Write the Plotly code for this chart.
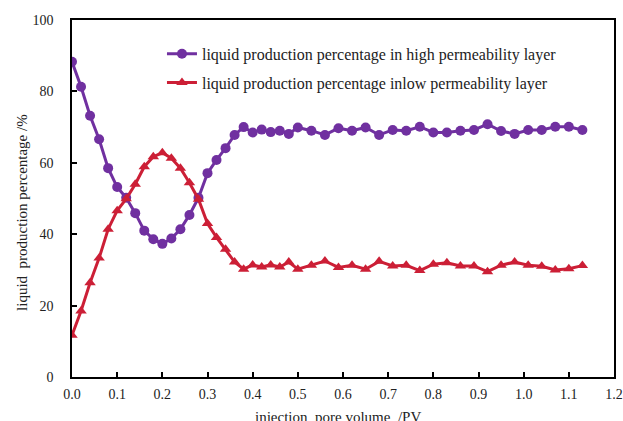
import plotly.graph_objects as go

pv = [0.00, 0.02, 0.04, 0.06, 0.08, 0.10, 0.12, 0.14, 0.16, 0.18,
      0.20, 0.22, 0.24, 0.26, 0.28, 0.30, 0.32, 0.34, 0.36, 0.38,
      0.40, 0.42, 0.44, 0.46, 0.48, 0.50, 0.53, 0.56, 0.59, 0.62,
      0.65, 0.68, 0.71, 0.74, 0.77, 0.80, 0.83, 0.86, 0.89, 0.92,
      0.95, 0.98, 1.01, 1.04, 1.07, 1.10, 1.13]

high_perm = [88.3, 81.3, 73.2, 66.6, 58.5, 53.2, 50.2, 45.9, 41.0, 38.6,
             37.3, 38.8, 41.4, 45.4, 50.2, 57.1, 60.8, 64.1, 67.8, 70.0,
             68.5, 69.3, 68.6, 69.0, 68.1, 69.9, 69.0, 67.8, 69.7, 69.0,
             69.9, 67.8, 69.2, 69.0, 70.1, 68.5, 68.5, 69.0, 69.2, 70.8,
             68.9, 68.1, 69.2, 69.2, 70.1, 70.1, 69.2]

low_perm = [11.7, 18.5, 26.4, 33.3, 41.4, 46.6, 49.9, 54.0, 58.9, 61.7,
            62.8, 61.3, 58.5, 54.4, 49.8, 43.0, 39.1, 35.8, 32.2, 30.2,
            31.4, 30.8, 31.4, 30.8, 32.2, 30.2, 31.3, 32.5, 30.7, 31.3,
            30.2, 32.4, 31.1, 31.3, 29.8, 31.6, 32.0, 31.1, 31.1, 29.5,
            31.3, 32.2, 31.3, 31.0, 30.0, 30.3, 31.2]

x_ticks = [0.0, 0.1, 0.2, 0.3, 0.4, 0.5, 0.6, 0.7, 0.8, 0.9, 1.0, 1.1, 1.2]
y_ticks = [0, 20, 40, 60, 80, 100]

purple = '#7030A0'
red = '#CC1F36'
font_family = '"Times New Roman", "Liberation Serif", serif'
text_color = '#222222'

fig = go.Figure()

fig.add_trace(
    go.Scatter(
        x=pv, y=high_perm,
        mode='lines+markers',
        name='liquid production percentage in high permeability layer',
        line=dict(color=purple, width=3),
        marker=dict(symbol='circle', size=10, color=purple),
        legendgroup='a'
    )
)

fig.add_trace(
    go.Scatter(
        x=pv, y=low_perm,
        mode='lines+markers',
        name='liquid production percentage inlow permeability layer',
        line=dict(color=red, width=3),
        marker=dict(symbol='triangle-up', size=10, color=red),
        legendgroup='b'
    )
)

axis_style = dict(
    showline=True,
    linecolor='black',
    linewidth=1.5,
    mirror=True,
    ticks='inside',
    ticklen=5,
    tickwidth=1.5,
    tickcolor='black',
    showgrid=False,
    zeroline=False,
    automargin=False,
    tickfont=dict(family=font_family, size=14, color=text_color),
)

fig.update_xaxes(
    range=[0, 1.2],
    tickvals=x_ticks,
    ticktext=[f'{v:.1f}' for v in x_ticks],
    ticklabelstandoff=3,
    **axis_style
)
fig.update_yaxes(
    range=[0, 100],
    tickvals=y_ticks,
    ticklabelstandoff=14,
    **axis_style
)

# axis titles as annotations so they sit where the original puts them
fig.add_annotation(
    text='liquid  production percentage /%',
    xref='paper', yref='paper',
    x=-0.092, y=0.46,
    textangle=-90,
    showarrow=False,
    font=dict(family=font_family, size=15, color=text_color),
    xanchor='center', yanchor='middle'
)
fig.add_annotation(
    text='injection  pore volume  /PV',
    xref='paper', yref='paper',
    x=0.49, y=-0.085,
    showarrow=False,
    font=dict(family=font_family, size=15, color=text_color),
    xanchor='center', yanchor='top'
)

fig.update_layout(
    width=623,
    height=421,
    margin=dict(l=72, r=9, t=20, b=44, autoexpand=False),
    plot_bgcolor='white',
    paper_bgcolor='white',
    showlegend=True,
    legend=dict(
        x=0.166, y=0.953,
        xanchor='left', yanchor='top',
        bgcolor='rgba(0,0,0,0)',
        font=dict(family=font_family, size=16, color=text_color),
        tracegroupgap=5,
    ),
)

# drop the default body margin so the figure fills the window exactly
fig.write_html(
    "out.html",
    config={'displayModeBar': False},
    post_script="document.body.style.margin = '0';"
)
